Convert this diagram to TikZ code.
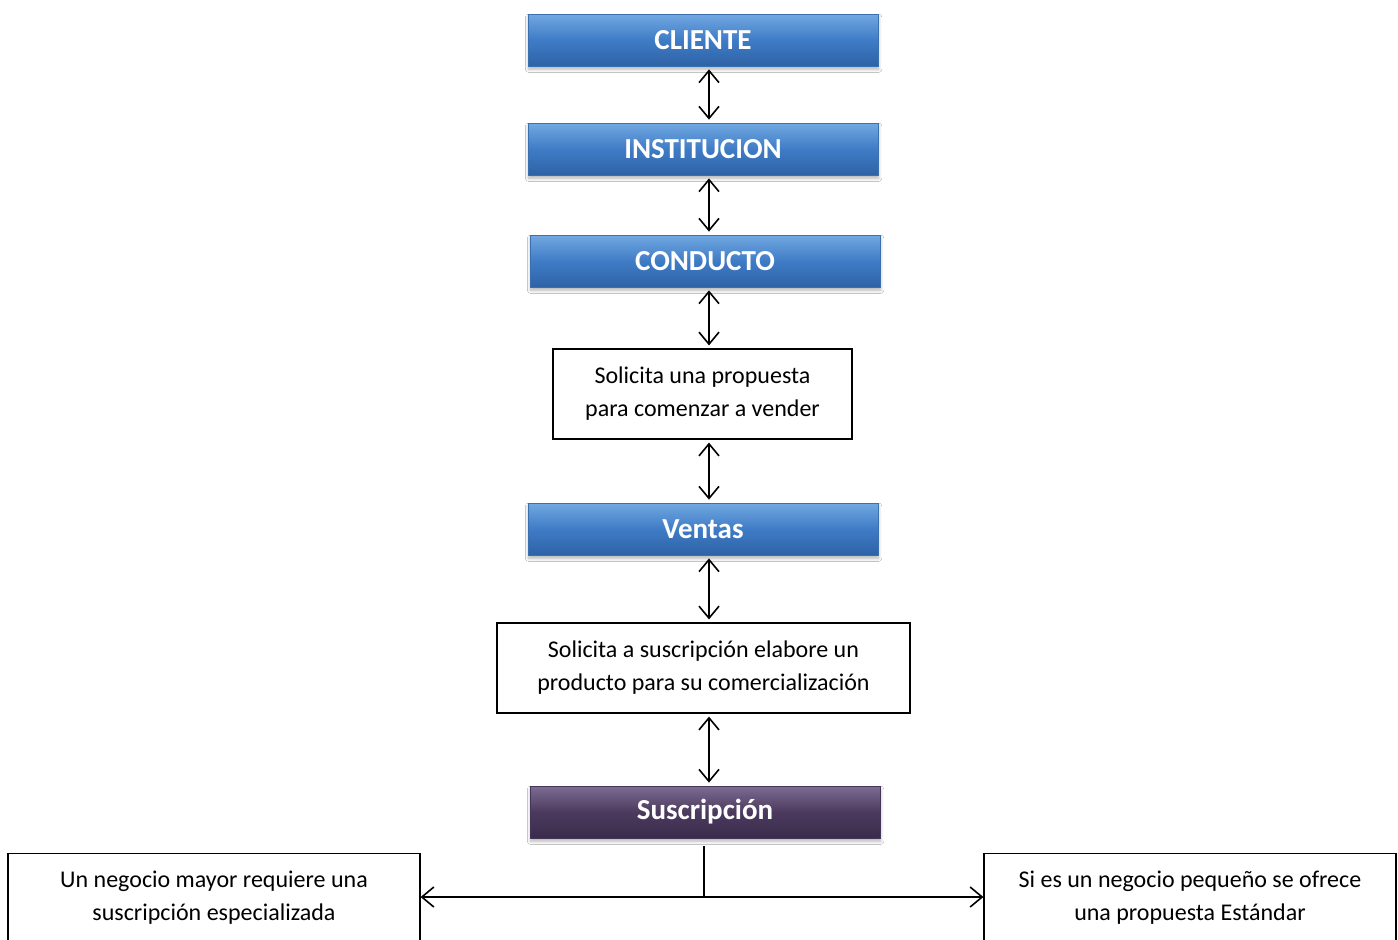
\documentclass[tikz,border=0pt]{standalone}
\usepackage{fontspec}
\setmainfont{Carlito}
\usepackage{xcolor}
\definecolor{stageBlueTop}{HTML}{72A8E2}
\definecolor{stageBlueMid}{HTML}{3F7CC6}
\definecolor{stageBlueBot}{HTML}{2E62A6}
\definecolor{stageBlueEdge}{HTML}{3A6FB0}
\definecolor{stagePurpleTop}{HTML}{7E6C93}
\definecolor{stagePurpleMid}{HTML}{4B3A5E}
\definecolor{stagePurpleBot}{HTML}{3A2B4B}
\definecolor{stagePurpleEdge}{HTML}{45355A}
\usepackage{tikz}
\usetikzlibrary{arrows.meta, positioning, shadows.blur, calc}

\tikzset{
    stagebox/.style={rectangle, minimum width=175pt, minimum height=26pt, inner sep=0pt,
        text=white, font=\fontsize{14.5}{16}\selectfont\bfseries,
        blur shadow={shadow xshift=0.3pt, shadow yshift=-1.6pt, shadow blur radius=1.6pt,
            shadow blur steps=6, shadow opacity=30}},
    bluestage/.style={stagebox, draw=stageBlueEdge, line width=0.4pt,
        top color=stageBlueTop, bottom color=stageBlueBot, middle color=stageBlueMid},
    purplestage/.style={stagebox, draw=stagePurpleEdge, line width=0.4pt,
        top color=stagePurpleTop, bottom color=stagePurpleBot, middle color=stagePurpleMid},
    notebox/.style={rectangle, draw=black, line width=0.6pt, fill=white, align=center,
        inner sep=0pt, font=\fontsize{12}{16.5}\selectfont},
    link/.style={line width=0.8pt, {Straight Barb[length=6pt,width=10pt]}-{Straight Barb[length=6pt,width=10pt]},
        shorten <=1.5pt, shorten >=1.5pt}
}

\begin{document}
\begin{tikzpicture}[x=0.5pt, y=-0.5pt]
            \useasboundingbox (0,0) rectangle (1398,939);
            \fill[white] (0,0) rectangle (1398,939);
            \clip (0,0) rectangle (1398,939);

            % stages down the middle
            \node[bluestage] (cliente) at (703,40) {CLIENTE};
            \node[bluestage] (institucion) at (703,149) {INSTITUCION};
            \node[bluestage] (conducto) at (705,261) {CONDUCTO};
            \node[notebox, minimum width=149.5pt, minimum height=45pt] (propuesta) at (702.5,394)
                {Solicita una propuesta\\para comenzar a vender};
            \node[bluestage] (ventas) at (703,529) {Ventas};
            \node[notebox, minimum width=206.5pt, minimum height=45pt] (producto) at (703.5,668)
                {Solicita a suscripción elabore un\\producto para su comercialización};
            \node[purplestage] (suscripcion) at (705,812) {Suscripción};

            % the two outcomes
            \node[notebox, anchor=north] (mayor) at (214,853)
                {\parbox[t][60pt][t]{206pt}{\centering\rule{0pt}{17pt}Un negocio mayor requiere una\\suscripción especializada}};
            \node[notebox, anchor=north] (pequeno) at (1190,853)
                {\parbox[t][60pt][t]{206pt}{\centering\rule{0pt}{17pt}Si es un negocio pequeño se ofrece\\una propuesta Estándar}};

            % connectors
            \coordinate (spine) at (709,0);
            \foreach \a/\b in {cliente/institucion, institucion/conducto, conducto/propuesta,
                propuesta/ventas, ventas/producto, producto/suscripcion}
                \draw[link] (\a.south -| spine) -- (\b.north -| spine);

            \coordinate (fork) at (704,897);
            \draw[line width=0.8pt] (suscripcion.south -| fork) ++(0,8) -- (fork);
            \draw[link, shorten <=0pt, shorten >=0pt] (mayor.east |- fork) -- (pequeno.west |- fork);
        \end{tikzpicture}
\end{document}
